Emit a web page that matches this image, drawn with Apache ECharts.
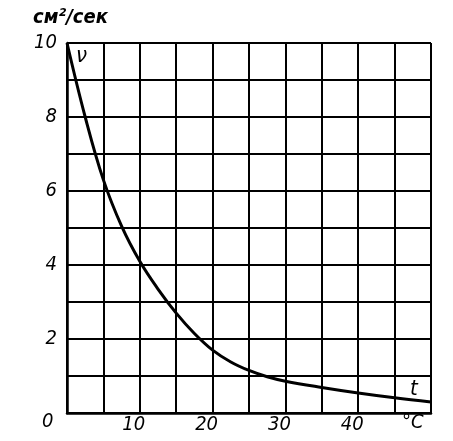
<!DOCTYPE html>
<html><head><meta charset="utf-8">
<script src="https://cdn.jsdelivr.net/npm/echarts@6/dist/echarts.min.js"></script>
<style>html,body{margin:0;padding:0;background:#fff}#c{width:453px;height:441px}</style>
</head><body><div id="c"></div>
<script>
const tValues = [0, 2.5, 5, 7.5, 10, 12.5, 15, 17.5, 20, 22.5, 25, 27.5, 30, 35, 40, 45, 50];
const nuValues = [10, 8.0, 6.3, 5.05, 4.1, 3.35, 2.7, 2.15, 1.7, 1.38, 1.15, 0.98, 0.86, 0.69, 0.54, 0.41, 0.3];
const xTickLabels = ['10', '20', '30', '40'];
const yTickLabels = ['2', '4', '6', '8', '10'];
const font = "'Liberation Sans Narrow', 'DejaVu Sans Condensed', sans-serif";
const chart = echarts.init(document.getElementById('c'));
chart.setOption({
  animation: false,
  grid: {left: 67, right: 22, top: 43, bottom: 28, show: false},
  xAxis: {
    type: 'value', min: 0, max: 50, interval: 5,
    axisLine: {show: true, lineStyle: {color: '#000', width: 2.5}},
    axisTick: {show: false},
    splitLine: {show: true, lineStyle: {color: '#000', width: 2}},
    axisLabel: {
      color: '#000', fontSize: 20, fontStyle: 'italic', fontFamily: font, margin: 2,
      formatter: v => xTickLabels.includes(String(v)) ? String(v) : '',
      padding: [0, 12, 0, 0]
    }
  },
  yAxis: {
    type: 'value', min: 0, max: 10, interval: 1,
    axisLine: {show: true, lineStyle: {color: '#000', width: 2.5}},
    axisTick: {show: false},
    splitLine: {show: true, lineStyle: {color: '#000', width: 2}},
    axisLabel: {
      color: '#000', fontSize: 20, fontStyle: 'italic', fontFamily: font, margin: 10,
      formatter: v => yTickLabels.includes(String(v)) ? String(v) : ''
    }
  },
  series: [{
    type: 'line', smooth: 0.4, symbol: 'none',
    lineStyle: {color: '#000', width: 3},
    data: tValues.map((t, i) => [t, nuValues[i]])
  }],
  graphic: [
    {type: 'text', left: 42, top: 412, style: {text: '0', fill: '#000', font: 'italic 20px ' + font}},
    {type: 'text', left: 402, top: 413, style: {text: '°C', fill: '#000', font: 'italic 20px ' + font}},
    {type: 'text', left: 410, top: 378, style: {text: 't', fill: '#000', font: 'italic 22px ' + font}},
    {type: 'text', left: 76, top: 45, style: {text: 'ν', fill: '#000', font: 'italic 22px ' + font}},
    {type: 'text', left: 33, top: 8, style: {text: 'см²/сек', fill: '#000', font: 'italic bold 20px ' + font}}
  ]
});
</script></body></html>
